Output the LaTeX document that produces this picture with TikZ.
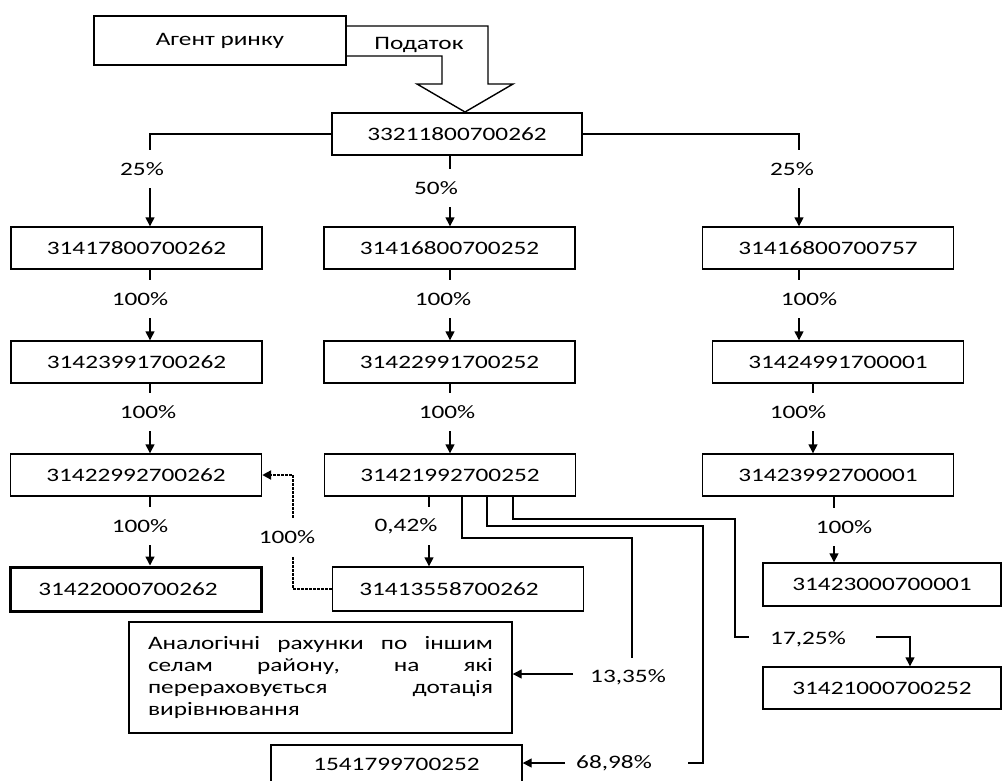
\documentclass[tikz,border=0pt]{standalone}
\usepackage{fontspec}
\setmainfont{Carlito}[FakeStretch=1.33]
\usepackage{tikz}
\usetikzlibrary{arrows.meta, positioning}
\newcommand{\schemefont}{\fontsize{19pt}{21.7pt}\selectfont}
\tikzset{
  % Box styles
  acctbox/.style={rectangle, draw=black, line width=1.4pt, minimum width=251pt, minimum height=42pt, inner sep=0pt, font=\schemefont, align=center},
  finalbox/.style={acctbox, line width=3pt, minimum height=44pt},
  notebox/.style={rectangle, draw=black, line width=1.4pt, minimum width=383pt, minimum height=111pt, text width=345pt, align=justify, inner sep=0pt, font=\schemefont},
  % Label styles
  sharelabel/.style={inner sep=0pt, minimum height=38pt, font=\schemefont},
  % Arrow styles
  link/.style={line width=1.4pt},
  arrow/.style={link, -{Triangle[length=9pt, width=9pt]}},
  dotlink/.style={line width=2.8pt, dash pattern=on 2.4pt off 1.6pt},
  blockarrow/.style={line width=1.4pt, line join=miter}
}

\begin{document}
\begin{tikzpicture}[x=1pt, y=-1pt]
  \fill[white] (0,0) rectangle (1003,780);
  \useasboundingbox (0,0) rectangle (1003,780);

  % Market agent and tax
  \node[acctbox, minimum width=252pt, minimum height=49pt] (agent) at (220,40.5) {Агент ринку};
  \node[acctbox, minimum width=250pt] (top) at (457,134) {33211800700262};
  \draw[blockarrow] (agent.east |- 0,26) -- (488,26) -- (488,84) -- (513,84) -- (465,112) -- (417,84) -- (442,84) -- (442,56) -- (agent.east |- 0,56);
  \node[font=\schemefont] (tax) at (419,45) {Податок};

  % Row 1
  \node[acctbox] (r1a) at (136.5,248) {31417800700262};
  \node[acctbox] (r1b) at (449.5,248) {31416800700252};
  \node[acctbox] (r1c) at (828,248) {31416800700757};

  % Row 2
  \node[acctbox] (r2a) at (136.5,362) {31423991700262};
  \node[acctbox] (r2b) at (449.5,362) {31422991700252};
  \node[acctbox] (r2c) at (838,362) {31424991700001};

  % Row 3
  \node[acctbox] (r3a) at (136,475) {31422992700262};
  \node[acctbox] (r3b) at (450,475) {31421992700252};
  \node[acctbox] (r3c) at (828,475) {31423992700001};

  % Row 4 and receivers
  \node[finalbox] (r4a) at (136,589) {\hspace*{-16pt}31422000700262};
  \node[acctbox, minimum height=44pt] (r4b) at (458,589) {\hspace*{-18pt}31413558700262};
  \node[acctbox, minimum width=238pt, minimum height=43pt] (r4c) at (882,584.5) {31423000700001};
  \node[acctbox, minimum width=238pt] (b17) at (882,688) {31421000700252};
  \node[notebox] (note) at (320.5,677.5) {\tolerance=10000\hyphenpenalty=10000 Аналогічні рахунки по іншим\linebreak селам району, на які\linebreak перераховується дотація\linebreak вирівнювання};
  \node[acctbox, minimum height=38pt] (b68) at (396.5,764) {1541799700252};

  % Line positions
  \coordinate (cL) at (150,0);
  \coordinate (cM) at (450,0);
  \coordinate (cM2) at (429,0);
  \coordinate (cR) at (799,0);
  \coordinate (cR2) at (813,0);
  \coordinate (cR3) at (834,0);
  \coordinate (cD) at (293,0);

  % Shares
  \node[sharelabel] (l25a) at (142,169) {25\%};
  \node[sharelabel] (l50) at (436,188) {50\%};
  \node[sharelabel] (l25b) at (792,169) {25\%};
  \node[sharelabel] (l12a) at (140,299) {100\%};
  \node[sharelabel] (l12b) at (443,299) {100\%};
  \node[sharelabel] (l12c) at (809,299) {100\%};
  \node[sharelabel] (l23a) at (148,412) {100\%};
  \node[sharelabel] (l23b) at (447,412) {100\%};
  \node[sharelabel] (l23c) at (798,412) {100\%};
  \node[sharelabel] (l34a) at (140,526) {100\%};
  \node[sharelabel] (l34b) at (406,526) {0,42\%};
  \node[sharelabel] (l34c) at (844,527) {100\%};
  \node[sharelabel] (ldot) at (287,537) {100\%};
  \node[sharelabel] (l1335) at (628,677) {13,35\%};
  \node[sharelabel] (l1725) at (808,639) {17,25\%};
  \node[sharelabel] (l6898) at (614,763) {68,98\%};

  % Top split
  \draw[link] (top.west) -| (l25a.north -| cL);
  \draw[arrow] (l25a.south -| cL) -- (r1a.north -| cL);
  \draw[link] (top.south -| cM) -- (l50.north -| cM);
  \draw[arrow] (l50.south -| cM) -- (r1b.north -| cM);
  \draw[link] (top.east) -| (l25b.north -| cR);
  \draw[arrow] (l25b.south -| cR) -- (r1c.north -| cR);

  % Left column
  \draw[link] (r1a.south -| cL) -- (l12a.north -| cL);
  \draw[arrow] (l12a.south -| cL) -- (r2a.north -| cL);
  \draw[link] (r2a.south -| cL) -- (l23a.north -| cL);
  \draw[arrow] (l23a.south -| cL) -- (r3a.north -| cL);
  \draw[link] (r3a.south -| cL) -- (l34a.north -| cL);
  \draw[arrow] (l34a.south -| cL) -- (r4a.north -| cL);

  % Middle column
  \draw[link] (r1b.south -| cM) -- (l12b.north -| cM);
  \draw[arrow] (l12b.south -| cM) -- (r2b.north -| cM);
  \draw[link] (r2b.south -| cM) -- (l23b.north -| cM);
  \draw[arrow] (l23b.south -| cM) -- (r3b.north -| cM);
  \draw[link] (r3b.south -| cM2) -- (l34b.north -| cM2);
  \draw[arrow] (l34b.south -| cM2) -- (r4b.north -| cM2);

  % Right column
  \draw[link] (r1c.south -| cR) -- (l12c.north -| cR);
  \draw[arrow] (l12c.south -| cR) -- (r2c.north -| cR);
  \draw[link] (r2c.south -| cR2) -- (l23c.north -| cR2);
  \draw[arrow] (l23c.south -| cR2) -- (r3c.north -| cR2);
  \draw[link] (r3c.south -| cR3) -- (l34c.north -| cR3);
  \draw[arrow] (l34c.south -| cR3) -- (r4c.north -| cR3);

  % Return flow
  \draw[dotlink] (r4b.west) -| (ldot.south -| cD);
  \draw[dotlink, -{Triangle[length=9pt, width=9pt]}] (ldot.north -| cD) |- (r3a.east);

  % Transfers from 31421992700252
  \coordinate (kA1) at (462,538);
  \coordinate (kA2) at (632,538);
  \coordinate (kA3) at (632,658);
  \coordinate (kA4) at (573,674);
  \coordinate (kB1) at (487,526);
  \coordinate (kB2) at (703,526);
  \coordinate (kB3) at (703,763);
  \coordinate (kB4) at (688,763);
  \coordinate (kB5) at (565,763);
  \coordinate (kC1) at (513,519);
  \coordinate (kC2) at (735,519);
  \coordinate (kC3) at (735,637);
  \coordinate (kC4) at (749,637);
  \coordinate (kC5) at (876,637);
  \coordinate (kC6) at (910,637);

  \draw[link] (r3b.south -| kA1) -- (kA1) -- (kA2) -- (kA3);
  \draw[arrow] (kA4) -- (note.east |- kA4);
  \draw[link] (r3b.south -| kB1) -- (kB1) -- (kB2) -- (kB3) -- (kB4);
  \draw[arrow] (kB5) -- (b68.east |- kB5);
  \draw[link] (r3b.south -| kC1) -- (kC1) -- (kC2) -- (kC3) -- (kC4);
  \draw[arrow] (kC5) -- (kC6) -- (b17.north -| kC6);
\end{tikzpicture}
\end{document}
